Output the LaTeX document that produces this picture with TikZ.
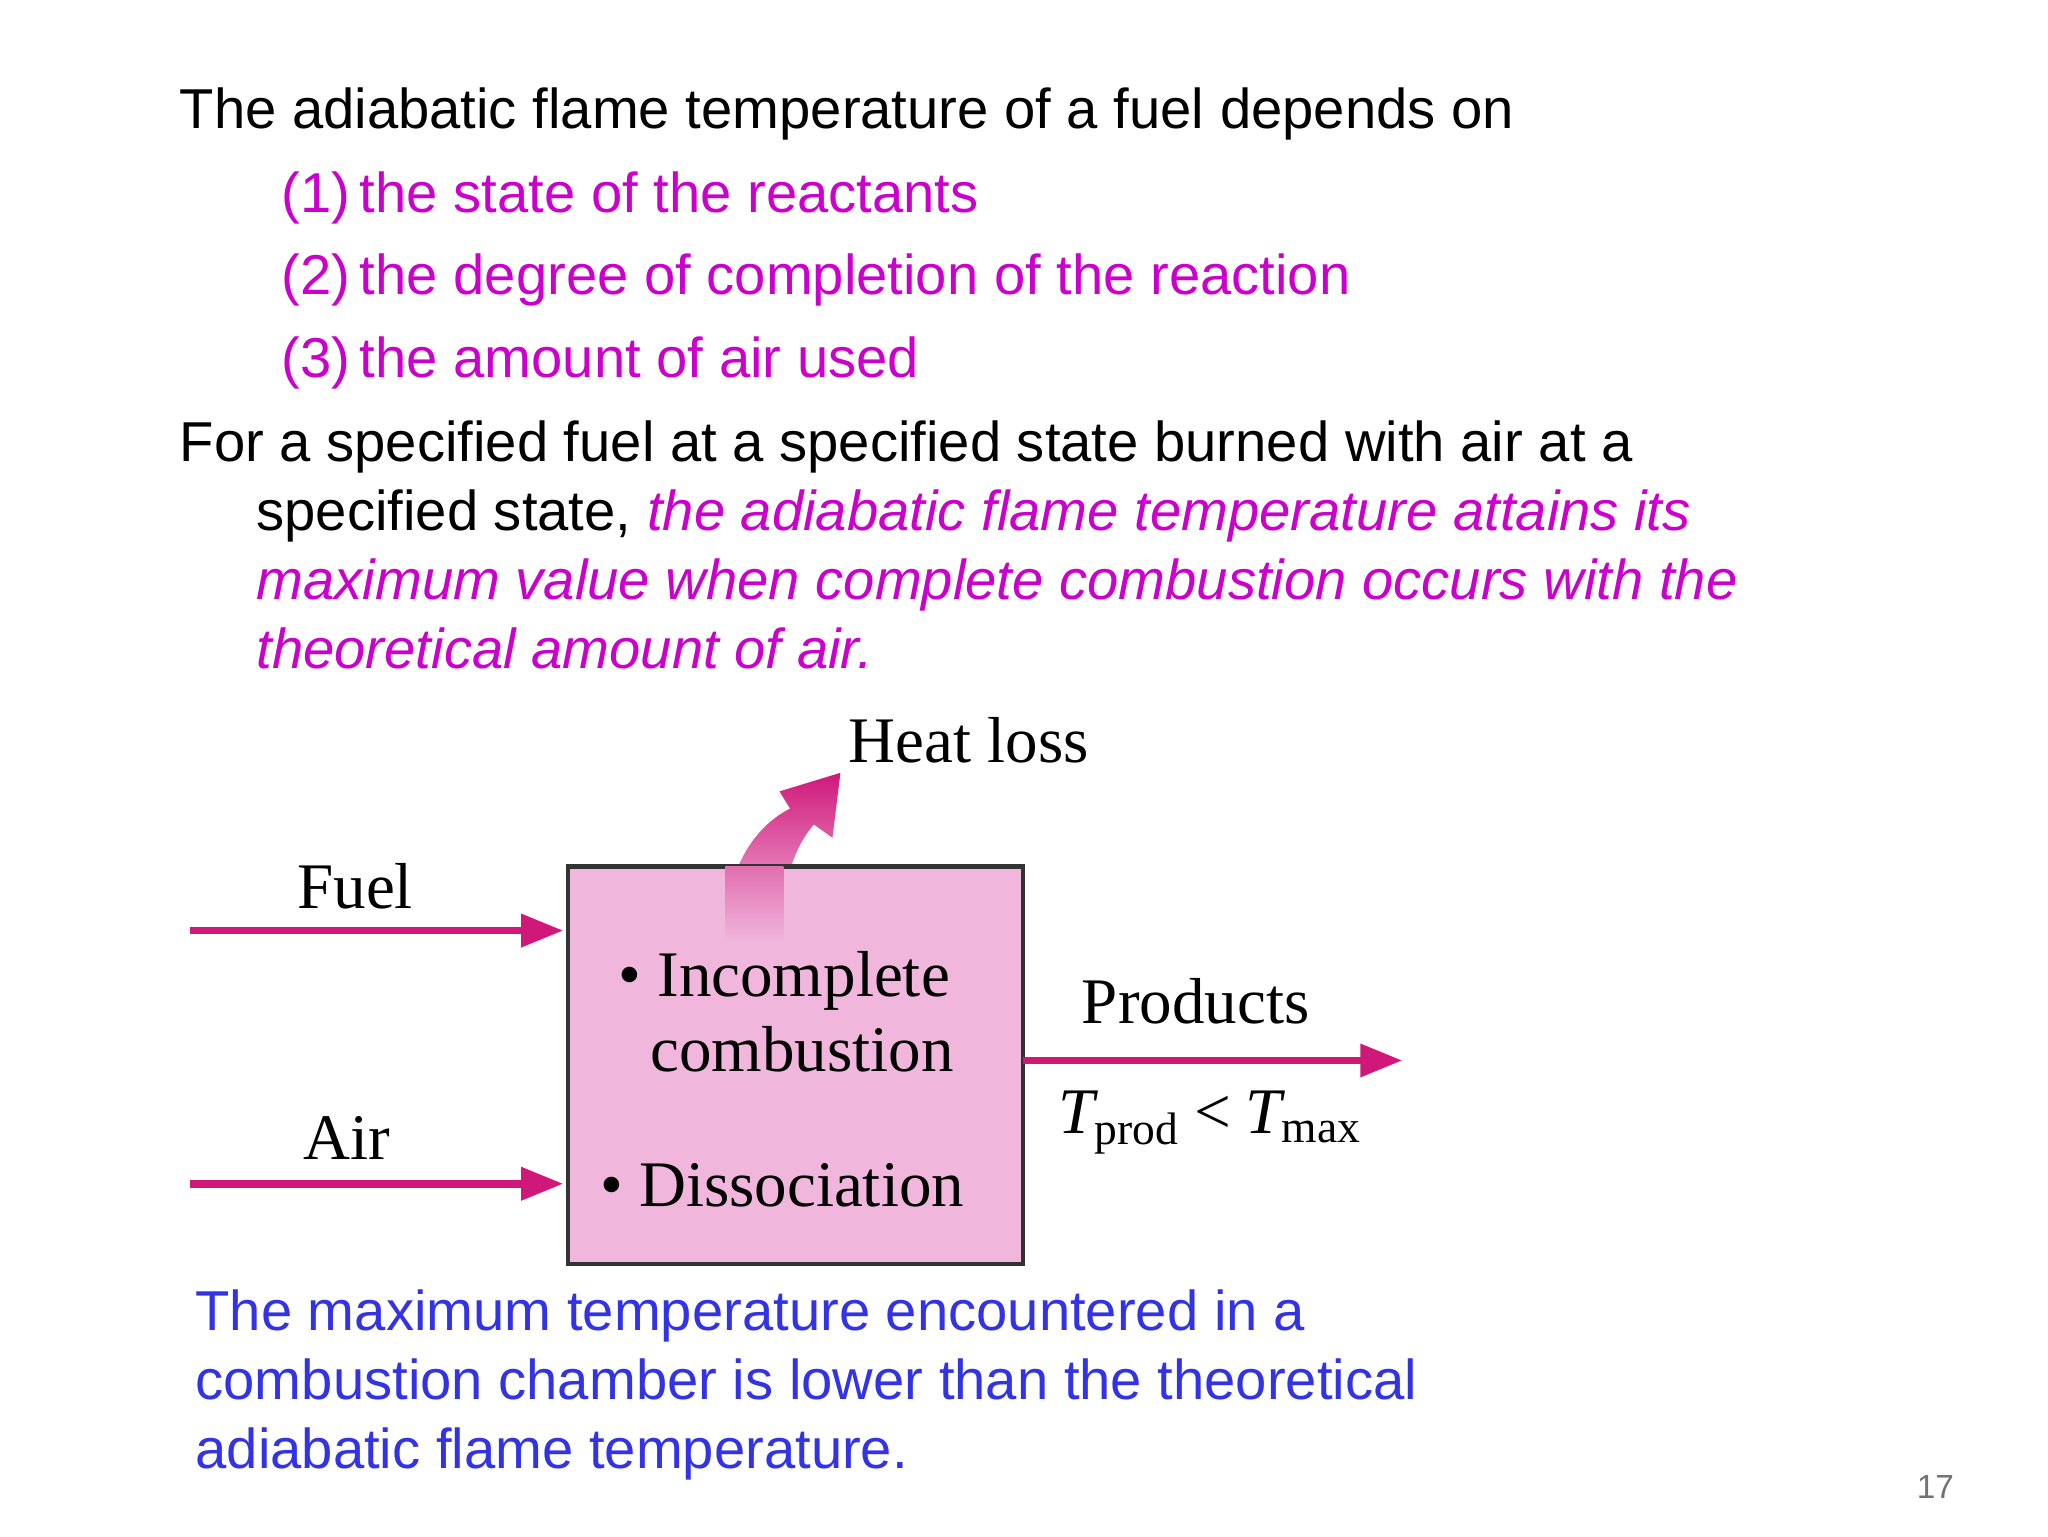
\documentclass[tikz,border=0pt]{standalone}
\usepackage{fontspec}
\setmainfont{Liberation Sans}
\newfontfamily\serif{Liberation Serif}
\usetikzlibrary{arrows.meta}
\definecolor{mag}{RGB}{204,0,204}
\definecolor{blu}{RGB}{51,51,230}
\definecolor{arr}{RGB}{208,24,122}
\definecolor{boxf}{RGB}{240,182,220}
\begin{document}
\begin{tikzpicture}[x=0.013256cm,y=-0.013256cm,
  txt/.style={anchor=base west,inner sep=0,font=\fontsize{16}{18}\selectfont},
  dg/.style={inner sep=0,anchor=base,font=\serif\fontsize{18.5}{20}\selectfont},
  flow/.style={draw=arr,line width=2.2pt,-{Triangle[length=12pt,width=9pt]}}]
\useasboundingbox (0,0) rectangle (1545,1159);
\fill[white] (0,0) rectangle (1545,1159);
\node[txt] (l1) at (135,97) {The adiabatic flame temperature of a fuel depends on};
\node[txt,text=mag] (n1) at (212,160) {(1)\,the state of the reactants};
\node[txt,text=mag] (n2) at (212,222) {(2)\,the degree of completion of the reaction};
\node[txt,text=mag] (n3) at (212,285) {(3)\,the amount of air used};
\node[txt] (l2) at (135,348) {For a specified fuel at a specified state burned with air at a};
\node[txt] (l3) at (193,400) {specified state, \textcolor{mag}{\itshape the adiabatic flame temperature attains its}};
\node[txt,text=mag,font=\fontsize{16}{18}\selectfont\itshape] (l4) at (193,452) {maximum value when complete combustion occurs with the};
\node[txt,text=mag,font=\fontsize{16}{18}\selectfont\itshape] (l5) at (193,504) {theoretical amount of air.};
% heat loss arrow
\shade[bottom color=boxf,top color=arr] (546,700) .. controls (550,650) and (572,622) .. (596,610)
  -- (588,597) -- (634,583) -- (628,632) -- (614,622)
  .. controls (598,640) and (590,670) .. (590,700) -- cycle;
\node[draw=black!80,line width=1.2pt,fill=boxf,minimum width=343*0.013256cm,minimum height=300*0.013256cm,anchor=north west] (box) at (427,652) {};
\shade[bottom color=boxf,top color=arr!45!boxf] (547,654) rectangle (591,710);
\node[dg,anchor=base west] (b1) at (466,752) {\textbullet\ Incomplete};
\node[dg] (b2) at (605,808) {combustion};
\node[dg] (b3) at (590,910) {\textbullet\ Dissociation};
\node[dg] (hl) at (731,575) {Heat loss};
\coordinate (f0) at (143,702); \coordinate (f1) at (425,702);
\coordinate (a0) at (143,893); \coordinate (a1) at (425,893);
\coordinate (p0) at (772,800); \coordinate (p1) at (1058,800);
\draw[flow] (f0) -- (f1);
\draw[flow] (a0) -- (a1);
\draw[flow] (p0) -- (p1);
\node[dg] (fuel) at (268,685) {Fuel};
\node[dg] (air) at (262,875) {Air};
\node[dg] (prod) at (902,772) {Products};
\node[dg] (tt) at (913,855) {\itshape T\textsubscript{\upshape prod}\,<\,T\textsubscript{\upshape max}};
\node[txt,text=blu] (c1) at (147,1004) {The maximum temperature encountered in a};
\node[txt,text=blu] (c2) at (147,1056) {combustion chamber is lower than the theoretical};
\node[txt,text=blu] (c3) at (147,1108) {adiabatic flame temperature.};
\node[inner sep=0,text=black!55,font=\fontsize{9.5}{10}\selectfont] (pg) at (1460,1122) {17};
\end{tikzpicture}
\end{document}
